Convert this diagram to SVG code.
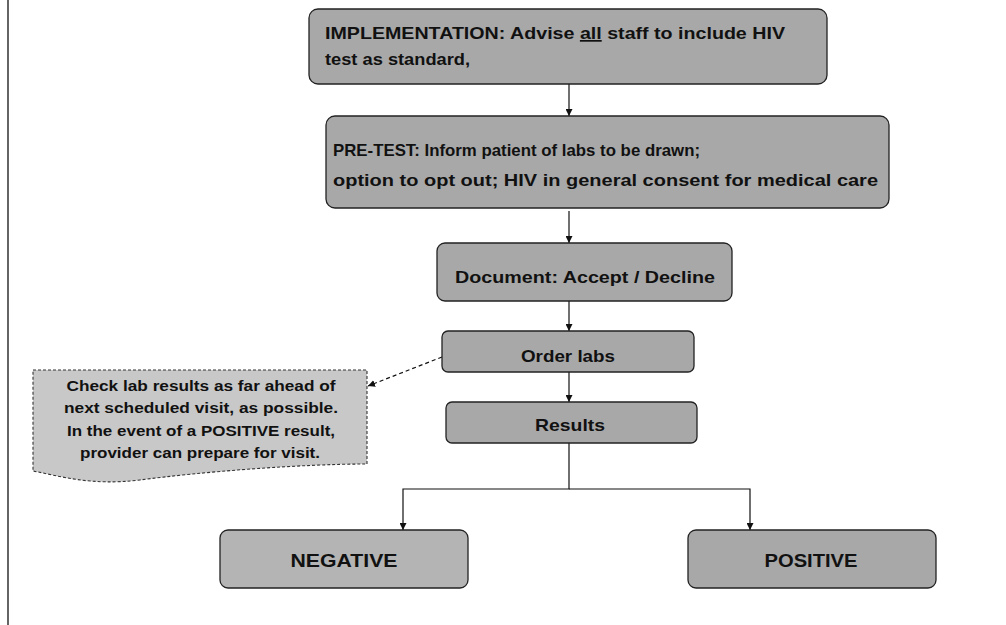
<svg xmlns="http://www.w3.org/2000/svg" width="1006" height="625" viewBox="0 0 1006 625">
<defs>
<style>
.box{fill:#a8a8a8;stroke:#222;stroke-width:1.3}
.t{font-family:"Liberation Sans",Arial,sans-serif;font-weight:bold;fill:#111}
.b16{font-size:17px}
.b14{font-size:14.5px}
.b19{font-size:19px}
.c{text-anchor:middle}
.ln{stroke:#111;stroke-width:1.2;fill:none}
</style>
<marker id="ah" viewBox="0 0 10 10" refX="10" refY="5" markerWidth="7" markerHeight="7" markerUnits="userSpaceOnUse" orient="auto"><path d="M0,0 L10,5 L0,10 z" fill="#111"/></marker>
</defs>
<rect width="1006" height="625" fill="#fff"/>
<line x1="8" y1="0" x2="8" y2="625" stroke="#111" stroke-width="1.3"/>

<g id="connectors">
<line class="ln" x1="569" y1="84" x2="569" y2="116" marker-end="url(#ah)"/>
<line class="ln" x1="569" y1="211" x2="569" y2="243" marker-end="url(#ah)"/>
<line class="ln" x1="569" y1="301" x2="569" y2="331" marker-end="url(#ah)"/>
<line class="ln" x1="569" y1="372" x2="569" y2="402" marker-end="url(#ah)"/>
<polyline class="ln" points="569,443 569,489 403,489 403,530" marker-end="url(#ah)"/>
<polyline class="ln" points="569,489 750,489 750,530" marker-end="url(#ah)"/>
<line class="ln" x1="442" y1="357" x2="368" y2="386" stroke-dasharray="4,3" marker-end="url(#ah)"/>
</g>

<g id="implementation">
<rect class="box" x="309" y="9" width="518" height="75" rx="9"/>
<text class="t b16" x="325" y="39" textLength="460" lengthAdjust="spacingAndGlyphs">IMPLEMENTATION:  Advise <tspan text-decoration="underline">all</tspan> staff to include HIV</text>
<text class="t b16" x="325" y="65" textLength="145" lengthAdjust="spacingAndGlyphs">test as standard,</text>
</g>

<g id="pretest">
<rect class="box" x="326" y="116" width="563" height="92" rx="9"/>
<text class="t b16" x="333" y="156" textLength="367" lengthAdjust="spacingAndGlyphs">PRE-TEST:  Inform patient of labs to be drawn;</text>
<text class="t b16" x="333" y="186" textLength="545" lengthAdjust="spacingAndGlyphs">option to opt out; HIV in general consent for medical care</text>
</g>

<g id="document">
<rect class="box" x="437" y="243" width="295" height="58" rx="8"/>
<text class="t b16 c" x="585" y="283" textLength="260" lengthAdjust="spacingAndGlyphs">Document: Accept / Decline</text>
</g>

<g id="orderlabs">
<rect class="box" x="442" y="331" width="252" height="41" rx="6"/>
<text class="t b16 c" x="568" y="362" textLength="94" lengthAdjust="spacingAndGlyphs">Order labs</text>
</g>

<g id="results">
<rect class="box" x="446" y="402" width="251" height="41" rx="6"/>
<text class="t b16 c" x="570" y="431" textLength="70" lengthAdjust="spacingAndGlyphs">Results</text>
</g>

<g id="negative">
<rect class="box" x="220" y="530" width="248" height="58" rx="8" style="fill:#b4b4b4"/>
<text class="t b19 c" x="344" y="567" textLength="107" lengthAdjust="spacingAndGlyphs">NEGATIVE</text>
</g>

<g id="positive">
<rect class="box" x="688" y="530" width="248" height="58" rx="8"/>
<text class="t b19 c" x="811" y="567" textLength="93" lengthAdjust="spacingAndGlyphs">POSITIVE</text>
</g>

<g id="note">
<path d="M33,370 L367,370 L367,464 C300,464 200,472 140,480 C90,486 60,476 33,471 Z" fill="#c8c8c8" stroke="#333" stroke-width="1.1" stroke-dasharray="3,2"/>
<text class="t b14 c" x="201" y="391" textLength="269" lengthAdjust="spacingAndGlyphs">Check lab results as far ahead of</text>
<text class="t b14 c" x="201" y="413" textLength="274" lengthAdjust="spacingAndGlyphs">next scheduled visit, as possible.</text>
<text class="t b14 c" x="201" y="436" textLength="268" lengthAdjust="spacingAndGlyphs">In the event of a POSITIVE result,</text>
<text class="t b14 c" x="200" y="458" textLength="240" lengthAdjust="spacingAndGlyphs">provider can prepare for visit.</text>
</g>
</svg>
